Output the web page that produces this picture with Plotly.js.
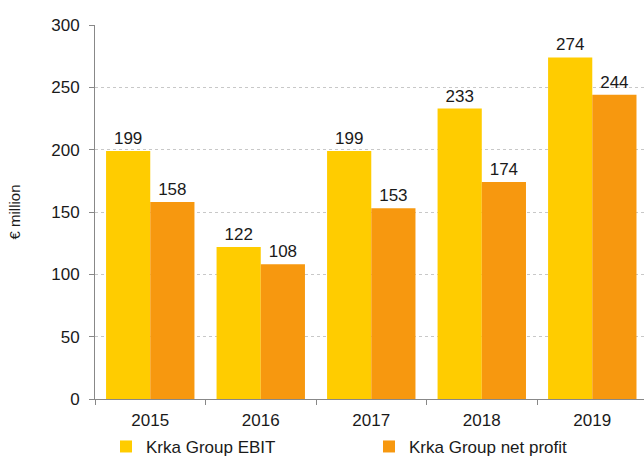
<!DOCTYPE html>
<html><head><meta charset="utf-8">
<script src="https://cdn.plot.ly/plotly-3.0.1.min.js"></script>
<style>html,body{margin:0;padding:0;background:#fff;}#chart{width:644px;height:459px;}</style>
</head><body><div id="chart"></div>
<script>
var years = ['2015','2016','2017','2018','2019'];
var ebit = [199, 122, 199, 233, 274];
var netProfit = [158, 108, 153, 174, 244];
var seriesNames = ['Krka Group EBIT', 'Krka Group net profit'];

var font = 'Liberation Sans, Arial, sans-serif';
var txt = '#1a1a1a';
var fs = 17;
var traces = [
  {type:'bar', x: years, y: ebit, name: seriesNames[0], marker:{color:'#FFCC00'},
   text: ebit.map(String), textposition:'outside', cliponaxis:false,
   textfont:{family:font, size:fs, color:txt}},
  {type:'bar', x: years, y: netProfit, name: seriesNames[1], marker:{color:'#F7980F'},
   text: netProfit.map(String), textposition:'outside', cliponaxis:false,
   textfont:{family:font, size:fs, color:txt}}
];
var layout = {
  width:644, height:459,
  margin:{l:95, r:0, t:25, b:60, autoexpand:false},
  paper_bgcolor:'#fff', plot_bgcolor:'#fff',
  font:{family:font, size:fs, color:txt},
  barmode:'group', bargap:0.2, bargroupgap:0,
  showlegend:true,
  legend:{orientation:'h', x:0.02, xanchor:'left', y:-0.08, yanchor:'top',
          bgcolor:'rgba(0,0,0,0)',
          font:{family:font, size:fs, color:txt}, entrywidth:218, entrywidthmode:'pixels',
          traceorder:'normal', itemclick:false},
  xaxis:{type:'category', range:[-0.5, 4.468], showline:true, linecolor:'#888', linewidth:1,
         ticks:'outside', tickson:'boundaries', ticklen:5, tickcolor:'#888', ticklabelstandoff:6,
         tickfont:{family:font, size:fs, color:txt}, showgrid:false, zeroline:false},
  yaxis:{range:[0,300], dtick:50, showline:true, linecolor:'#888', linewidth:1,
         ticks:'outside', ticklen:5, tickcolor:'#888', ticklabelstandoff:6,
         tickfont:{family:font, size:fs, color:txt},
         showgrid:true, gridcolor:'#c8c8c8', griddash:'dot', gridwidth:1, zeroline:false,
         title:{text:'€ million', font:{family:font, size:15, color:txt}, standoff:26}}
};
Plotly.newPlot('chart', traces, layout, {displayModeBar:false, staticPlot:true});
</script></body></html>
